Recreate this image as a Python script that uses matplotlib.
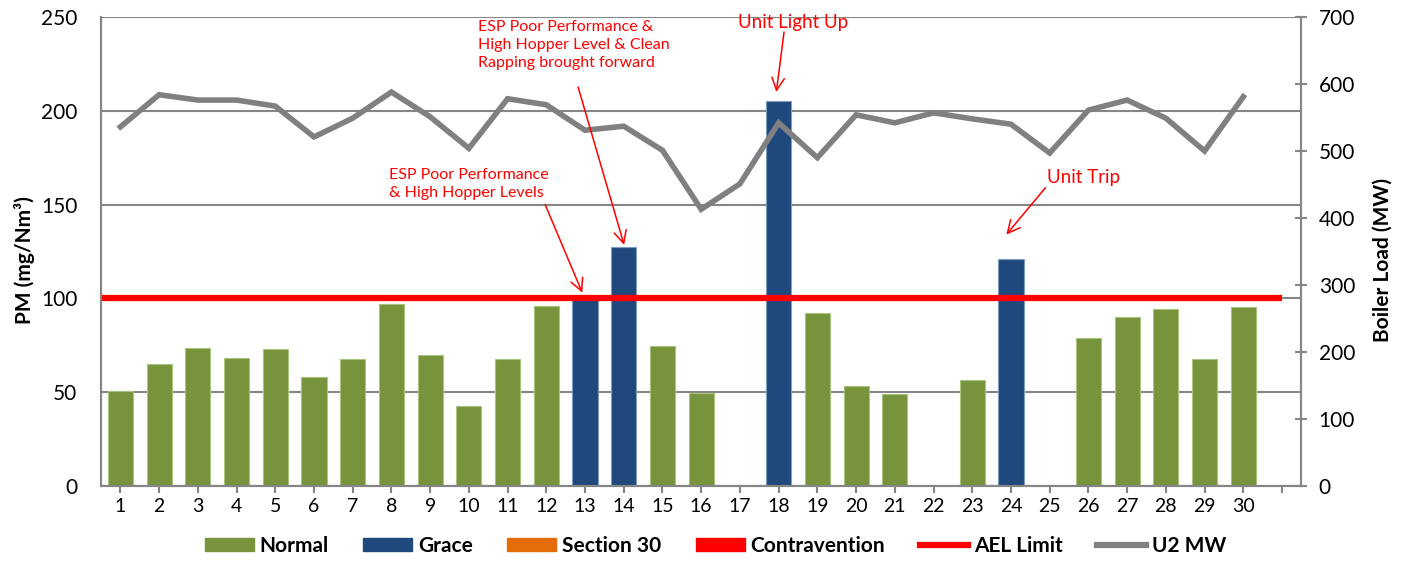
import numpy as np
import matplotlib.pyplot as plt
from matplotlib.patches import Patch
from matplotlib.lines import Line2D

plt.rcParams['font.family'] = ['Lato', 'DejaVu Sans']

# day labels (last category is an empty slot on the axis)
days = [str(d) for d in range(1, 31)] + ['']

# PM concentration per day (mg/Nm3), nan = unit offline
pm = [50.5, 65, 73.5, 68, 73, 58, 67.5, 97, 70, 42.5,
      67.5, 96, 101, 127.5, 74.5, 49.5, np.nan, 205, 92, 53.5,
      49, np.nan, 56.5, 121, np.nan, 79, 90, 94.5, 67.5, 95.5, np.nan]

status = ['Normal'] * 31
for d in (13, 14, 18, 24):
    status[d - 1] = 'Grace'

# boiler load (MW)
u2_mw = [536, 584, 576, 576, 567, 521, 549, 588, 551, 504,
         578, 569, 531, 537, 501, 413, 451, 542, 490, 554,
         542, 557, 548, 540, 497, 561, 576, 549, 500, 581]

ael_limit = 100

colors = {'Normal': '#77933C', 'Grace': '#1F497D',
          'Section 30': '#E36C09', 'Contravention': '#FF0000'}
edges = {'Normal': '#A9C47F', 'Grace': '#7F9CC4'}
GREY = '#868686'

x = np.arange(1, len(days) + 1)

fig = plt.figure(figsize=(14.13, 5.61), dpi=100)
ax = fig.add_axes([0.0715, 0.1337, 0.8495, 0.836])
ax2 = ax.twinx()

# bars
ax.bar(x, pm, width=0.65, color=[colors[s] for s in status],
       edgecolor=[edges[s] for s in status], linewidth=0.8, zorder=2)

# AEL limit line
ax.hlines(ael_limit, 0.5, len(days), color='#FF0000', linewidth=4.5, zorder=3)

# boiler load line
ax2.plot(x[:len(u2_mw)], u2_mw, color='#808080', linewidth=4, solid_joinstyle='miter')

ax.set_xlim(0.5, len(days) + 0.5)
ax.set_ylim(0, 250)
ax.set_yticks(np.arange(0, 251, 50))
ax2.set_ylim(0, 700)
ax2.set_yticks(np.arange(0, 701, 100))

ax.set_xticks(x)
ax.set_xticklabels(days)
ax.yaxis.grid(True, color=GREY, linewidth=1.5)
ax.set_axisbelow(True)

for a in (ax, ax2):
    for side in ('left', 'right', 'bottom'):
        a.spines[side].set_color(GREY)
        a.spines[side].set_linewidth(1.5)
    a.spines['top'].set_visible(False)

ax.tick_params(axis='y', length=0, labelsize=15, pad=17)
ax.tick_params(axis='x', direction='out', length=5, color=GREY, width=1.5, labelsize=14, pad=4)
ax2.tick_params(axis='y', direction='inout', length=9, color=GREY, width=1.5, labelsize=15, pad=8)

ax.set_ylabel('PM (mg/Nm³)', fontsize=15, fontweight='bold')
ax.yaxis.set_label_coords(-0.055, 0.482)
ax2.set_ylabel('Boiler Load (MW)', fontsize=15, fontweight='bold')
ax2.yaxis.set_label_coords(1.059, 0.482)

# annotations
ann = dict(xycoords=ax.transData, textcoords=ax.transData, annotation_clip=False)
arrow = dict(arrowstyle='->,head_length=0.9,head_width=0.45', color='#FF0000', linewidth=1.1,
             shrinkA=0, shrinkB=0)
small = dict(transform=ax.transData, color='#FF0000', fontsize=11.5, linespacing=1.35,
             va='top', ha='left')
big = dict(transform=ax.transData, color='#FF0000', fontsize=13.5, va='center', ha='left')

ax2.annotate('', xy=(12.93, 103), xytext=(11.97, 150), arrowprops=arrow, **ann)
ax2.text(7.94, 169.5, 'ESP Poor Performance\n& High Hopper Levels', **small)

ax2.annotate('', xy=(14.01, 128.5), xytext=(12.82, 212.7), arrowprops=arrow, **ann)
ax2.text(10.24, 248.5, 'ESP Poor Performance &\nHigh Hopper Level & Clean\nRapping brought forward',
         **small)

ax2.annotate('', xy=(17.94, 210), xytext=(18.14, 242), arrowprops=arrow, **ann)
ax2.text(16.96, 247.3, 'Unit Light Up', **big)

ax2.annotate('', xy=(23.88, 134), xytext=(24.89, 159), arrowprops=arrow, **ann)
ax2.text(24.94, 164.7, 'Unit Trip', **big)

# legend
handles = [Patch(color=colors[k]) for k in ('Normal', 'Grace', 'Section 30', 'Contravention')]
handles += [Line2D([], [], color='#FF0000', linewidth=4.5),
            Line2D([], [], color='#808080', linewidth=4.5)]
labels = ['Normal', 'Grace', 'Section 30', 'Contravention', 'AEL Limit', 'U2 MW']
fig.legend(handles, labels, loc='center', bbox_to_anchor=(0.5065, 0.027), ncol=6,
           frameon=False, prop={'weight': 'bold', 'size': 15},
           handlelength=2.35, handleheight=0.65, handletextpad=0.27, columnspacing=1.66)

fig.savefig('out.png', dpi=100)
